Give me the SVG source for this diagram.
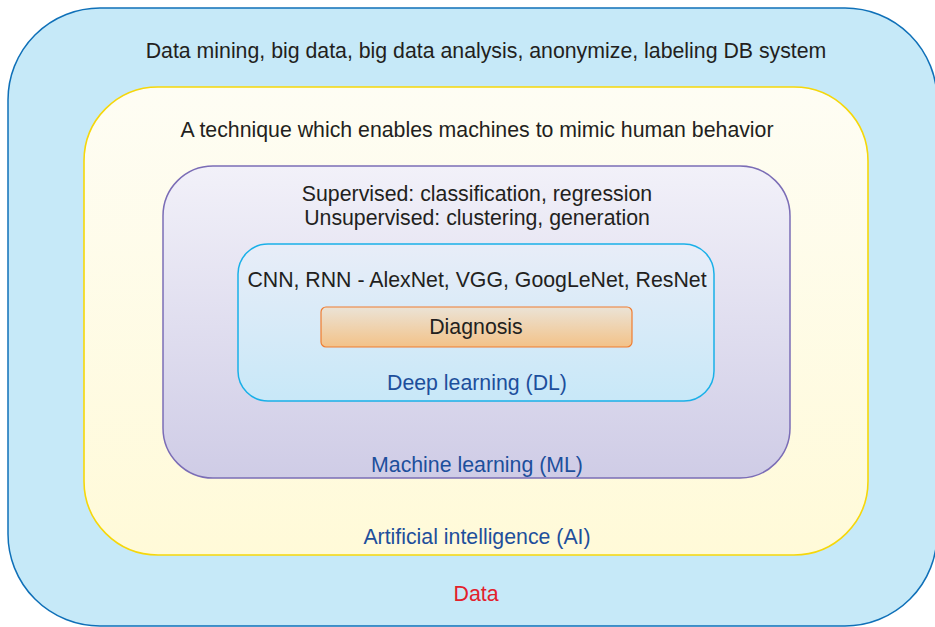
<svg xmlns="http://www.w3.org/2000/svg" width="935" height="627" viewBox="0 0 935 627">
<defs>
<linearGradient id="gAI" x1="0" y1="0" x2="0" y2="1"><stop offset="0" stop-color="#fefdf4"/><stop offset="1" stop-color="#fffad8"/></linearGradient>
<linearGradient id="gML" x1="0" y1="0" x2="0" y2="1"><stop offset="0" stop-color="#f2f1f9"/><stop offset="1" stop-color="#cfcce6"/></linearGradient>
<linearGradient id="gDL" x1="0" y1="0" x2="0" y2="1"><stop offset="0" stop-color="#e8edf8"/><stop offset="1" stop-color="#c8e8f8"/></linearGradient>
<linearGradient id="gDx" x1="0" y1="0" x2="0" y2="1"><stop offset="0" stop-color="#ebe3d6"/><stop offset="1" stop-color="#f3c288"/></linearGradient>
</defs>
<style>
text{font-family:"Liberation Sans",Arial,sans-serif;font-size:21.3px;text-anchor:middle;fill:#231f20}
.lbl{fill:#1d4f9c}
.red{fill:#e3202b}
</style>
<g id="data">
<rect x="8" y="8" width="929" height="618" rx="92" fill="#c6e9f8" stroke="#0f70b8" stroke-width="1.5"/>
<text x="486" y="58">Data mining, big data, big data analysis, anonymize, labeling DB system</text>
<text class="red" x="476" y="601">Data</text>
</g>
<g id="ai">
<rect x="84" y="87" width="784" height="468" rx="74" fill="url(#gAI)" stroke="#f6d70a" stroke-width="1.6"/>
<text x="477" y="137">A technique which enables machines to mimic human behavior</text>
<text class="lbl" x="477" y="544">Artificial intelligence (AI)</text>
</g>
<g id="ml">
<rect x="163" y="166" width="627" height="312" rx="50" fill="url(#gML)" stroke="#7b6db6" stroke-width="1.5"/>
<text x="477" y="201">Supervised: classification, regression</text>
<text x="477" y="225">Unsupervised: clustering, generation</text>
<text class="lbl" x="477" y="472">Machine learning (ML)</text>
</g>
<g id="dl">
<rect x="238" y="244" width="476" height="157" rx="30" fill="url(#gDL)" stroke="#1ab0e8" stroke-width="1.5"/>
<text x="477" y="287">CNN, RNN - AlexNet, VGG, GoogLeNet, ResNet</text>
<text class="lbl" x="477" y="390">Deep learning (DL)</text>
</g>
<g id="diagnosis">
<rect x="321" y="307" width="311" height="40" rx="5" fill="url(#gDx)" stroke="#f07c30" stroke-width="1.2"/>
<text x="476" y="334">Diagnosis</text>
</g>
<g id="connectors"/>
</svg>
